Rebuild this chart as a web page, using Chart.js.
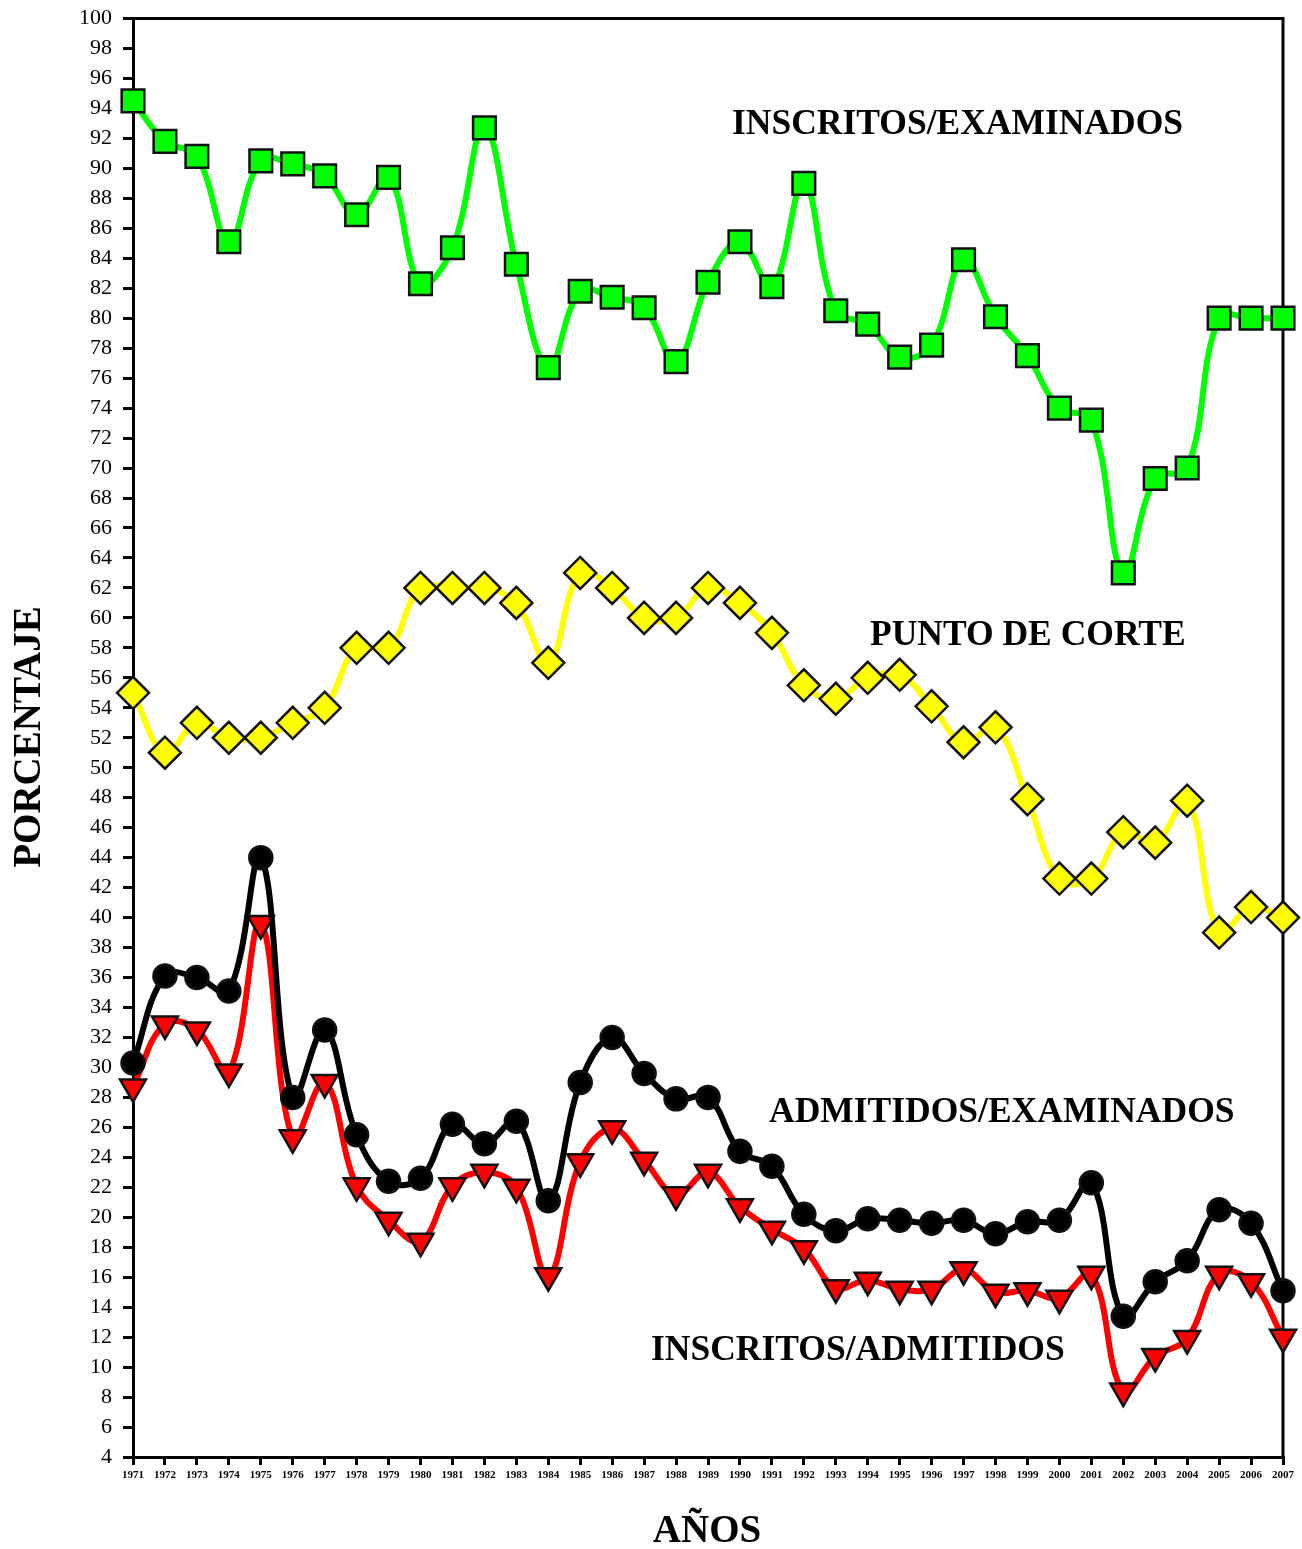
<!DOCTYPE html>
<html>
<head>
<meta charset="utf-8">
<script src="https://cdn.jsdelivr.net/npm/chart.js@4/dist/chart.umd.min.js"></script>
<style>
  html, body { margin: 0; padding: 0; background: #fff; }
  #wrap { width: 1302px; height: 1549px; }
</style>
</head>
<body>
<div id="wrap"><canvas id="myChart" width="1302" height="1549"></canvas></div>
<script>
const years = [
  "1971", "1972", "1973", "1974", "1975", "1976", "1977", "1978", "1979", "1980",
  "1981", "1982", "1983", "1984", "1985", "1986", "1987", "1988", "1989", "1990",
  "1991", "1992", "1993", "1994", "1995", "1996", "1997", "1998", "1999", "2000",
  "2001", "2002", "2003", "2004", "2005", "2006", "2007",
];
const inscritosExaminados = [
  94.5, 91.8, 90.8, 85.1, 90.5, 90.3, 89.5, 86.9, 89.4, 82.3,
  84.7, 92.7, 83.6, 76.7, 81.8, 81.4, 80.7, 77.1, 82.4, 85.1,
  82.1, 89.0, 80.5, 79.6, 77.4, 78.2, 83.9, 80.1, 77.5, 74.0,
  73.2, 63.0, 69.3, 70.0, 80.0, 80.0, 80.0,
];
const puntoDeCorte = [
  55.0, 51.0, 53.0, 52.0, 52.0, 53.0, 54.0, 58.0, 58.0, 62.0,
  62.0, 62.0, 61.0, 57.0, 63.0, 62.0, 60.0, 60.0, 62.0, 61.0,
  59.0, 55.5, 54.6, 56.0, 56.2, 54.1, 51.7, 52.7, 47.9, 42.6,
  42.6, 45.7, 45.0, 47.8, 39.0, 40.7, 40.0,
];
const admitidosExaminados = [
  30.3, 36.1, 36.0, 35.1, 44.0, 28.0, 32.5, 25.5, 22.4, 22.6,
  26.2, 24.9, 26.4, 21.1, 29.0, 32.0, 29.6, 27.9, 28.0, 24.4,
  23.4, 20.2, 19.1, 19.9, 19.8, 19.6, 19.8, 18.9, 19.7, 19.8,
  22.3, 13.4, 15.7, 17.1, 20.5, 19.6, 15.1,
];
const inscritosAdmitidos = [
  28.7, 32.9, 32.5, 29.7, 39.6, 25.3, 29.0, 22.1, 19.8, 18.4,
  22.1, 23.0, 22.0, 16.1, 23.7, 25.9, 23.8, 21.5, 23.0, 20.7,
  19.2, 17.9, 15.3, 15.8, 15.2, 15.2, 16.5, 15.0, 15.1, 14.6,
  16.2, 8.4, 10.7, 11.9, 16.2, 15.7, 12.0,
];

const serif = "'Liberation Serif', 'DejaVu Serif', serif";

// series names written inside the plot
const seriesLabels = [
  { text: "INSCRITOS/EXAMINADOS", x: 732, y: 125 },
  { text: "PUNTO DE CORTE", x: 870, y: 636 },
  { text: "ADMITIDOS/EXAMINADOS", x: 769, y: 1113 },
  { text: "INSCRITOS/ADMITIDOS", x: 651, y: 1351 },
];

const decorations = {
  id: "decorations",
  beforeDatasetsDraw(chart) {
    const { ctx, chartArea: a } = chart;
    ctx.save();
    ctx.strokeStyle = "#000";
    ctx.lineWidth = 3;
    ctx.beginPath();
    ctx.moveTo(a.left, a.top);
    ctx.lineTo(a.right, a.top);
    ctx.lineTo(a.right, a.bottom);
    ctx.stroke();
    ctx.restore();
  },
  afterDraw(chart) {
    const { ctx } = chart;
    ctx.save();
    ctx.fillStyle = "#000";
    ctx.font = "bold 35.5px " + serif;
    ctx.textAlign = "left";
    ctx.textBaseline = "middle";
    seriesLabels.forEach((l) => ctx.fillText(l.text, l.x, l.y));

    ctx.font = "bold 39px " + serif;
    ctx.textAlign = "center";
    ctx.fillText("AÑOS", 707, 1532);
    ctx.translate(30, 737);
    ctx.rotate(-Math.PI / 2);
    ctx.fillText("PORCENTAJE", 0, 0);
    ctx.restore();
  },
};

function line(label, values, color, style, radius, rotation) {
  return {
    label: label,
    data: values,
    borderColor: color,
    borderWidth: 6,
    tension: 0.4,
    pointStyle: style,
    pointRadius: radius,
    pointRotation: rotation || 0,
    pointBackgroundColor: color,
    pointBorderColor: "#111",
    pointBorderWidth: 2.5,
    clip: false,
  };
}

const config = {
  type: "line",
  data: {
    labels: years,
    datasets: [
      line("INSCRITOS/EXAMINADOS", inscritosExaminados, "#00ff00", "rect", 16),
      line("PUNTO DE CORTE", puntoDeCorte, "#ffff00", "rectRot", 16),
      line("ADMITIDOS/EXAMINADOS", admitidosExaminados, "#000000", "circle", 11.5),
      line("INSCRITOS/ADMITIDOS", inscritosAdmitidos, "#ff0000", "triangle", 15, 180),
    ],
  },
  options: {
    responsive: false,
    animation: false,
    layout: { padding: { top: 17, right: 19, left: 0, bottom: 0 } },
    plugins: {
      legend: { display: false },
      tooltip: { enabled: false },
    },
    scales: {
      x: {
        afterFit: (s) => { s.height = 92; s.paddingLeft = 0; s.paddingRight = 0; },
        grid: { drawOnChartArea: false, color: "#000", lineWidth: 3, tickLength: 8 },
        border: { color: "#000", width: 3 },
        ticks: {
          autoSkip: false,
          maxRotation: 0,
          padding: 4,
          color: "#000",
          font: { family: serif, size: 11, weight: "bold" },
        },
      },
      y: {
        min: 4,
        max: 100,
        afterFit: (s) => { s.width = 133; s.paddingTop = 0; s.paddingBottom = 0; },
        grid: { drawOnChartArea: false, color: "#000", lineWidth: 3, tickLength: 10 },
        border: { color: "#000", width: 3 },
        ticks: {
          stepSize: 2,
          padding: 11,
          color: "#000",
          font: { family: serif, size: 22 },
        },
      },
    },
  },
  plugins: [decorations],
};

const ctx = document.getElementById("myChart").getContext("2d");
const myChart = new Chart(ctx, config);
</script>
</body>
</html>
